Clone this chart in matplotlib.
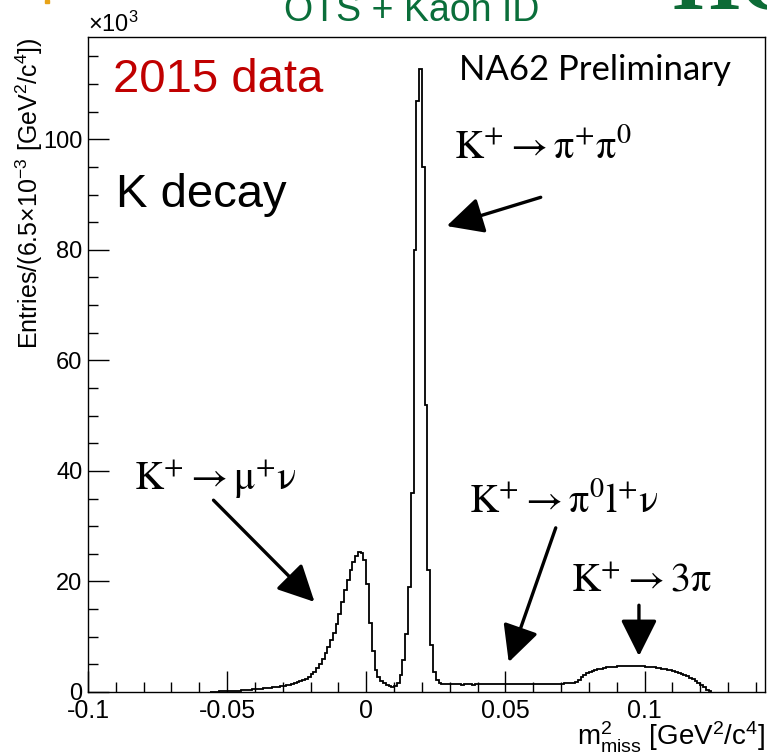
import numpy as np
import matplotlib
matplotlib.use('Agg')
import matplotlib.pyplot as plt
from matplotlib.ticker import MultipleLocator, FuncFormatter
from matplotlib.patches import Rectangle

plt.rcParams['font.family'] = ['Liberation Sans', 'DejaVu Sans']
plt.rcParams['mathtext.fontset'] = 'custom'
plt.rcParams['mathtext.rm'] = 'Liberation Sans'
plt.rcParams['mathtext.it'] = 'Liberation Sans:italic'
plt.rcParams['axes.unicode_minus'] = False

# missing mass squared histogram, entries in units of 10^3
bin_lo = -0.056
bin_w = 0.001
counts = [
    # -0.056 .. -0.031
    0.02, 0.05, 0.08, 0.10, 0.12, 0.14, 0.17, 0.19, 0.21, 0.24,
    0.27, 0.30, 0.34, 0.38, 0.43, 0.48, 0.53, 0.58, 0.63, 0.68,
    0.74, 0.80, 0.86, 0.92, 0.99, 1.07,
    # -0.030 .. -0.001  (K -> mu nu)
    1.15, 1.25, 1.35, 1.47, 1.60, 1.75, 1.90, 2.10, 2.40, 2.70,
    3.20, 3.70, 4.30, 5.00, 6.00, 7.00, 8.10, 9.40, 10.7, 12.3,
    14.2, 16.3, 18.4, 20.3, 22.0, 23.5, 24.6, 25.3, 25.2, 23.9,
    # 0.000 .. 0.026  (K -> pi pi0)
    19.5, 12.5, 7.5, 4.0, 2.8, 2.0, 1.55, 1.20, 1.00, 0.92,
    1.00, 1.60, 3.00, 5.80, 10.5, 19.0, 36.0, 80.0, 107.0, 112.8,
    95.0, 52.0, 22.0, 8.5, 3.6, 2.1, 1.6,
    # 0.027 .. 0.072  flat part
    1.45, 1.42, 1.40, 1.38, 1.38, 1.36, 1.37, 1.35, 1.36, 1.38,
    1.36, 1.35, 1.37, 1.39, 1.38, 1.40, 1.39, 1.41, 1.40, 1.42,
    1.41, 1.43, 1.44, 1.42, 1.43, 1.45, 1.44, 1.46, 1.45, 1.44,
    1.46, 1.47, 1.46, 1.48, 1.47, 1.49, 1.48, 1.50, 1.49, 1.51,
    1.50, 1.52, 1.51, 1.53, 1.54, 1.55,
    # 0.073 .. 0.123  (K -> 3 pi)
    1.58, 1.65, 1.80, 2.20, 2.70, 3.10, 3.40, 3.65, 3.85, 4.00,
    4.15, 4.25, 4.35, 4.45, 4.50, 4.55, 4.60, 4.62, 4.65, 4.67,
    4.68, 4.70, 4.70, 4.70, 4.68, 4.66, 4.64, 4.60, 4.57, 4.53,
    4.48, 4.42, 4.35, 4.25, 4.15, 4.05, 3.92, 3.78, 3.62, 3.45,
    3.25, 3.05, 2.82, 2.58, 2.30, 2.00, 1.65, 1.25, 0.85, 0.45,
    0.10,
]
edges = bin_lo + bin_w * np.arange(len(counts) + 1)

fig = plt.figure(figsize=(7.67, 7.54), dpi=100)
ax = fig.add_axes([88 / 767, 1 - 692 / 754, 677 / 767, 655 / 754])

ax.stairs(counts, edges, color='black', lw=1.3)

ax.set_xlim(-0.1, 0.1433)
ax.set_ylim(0, 118.5)

ax.xaxis.set_major_locator(MultipleLocator(0.05))
ax.xaxis.set_minor_locator(MultipleLocator(0.01))
ax.yaxis.set_major_locator(MultipleLocator(20))
ax.yaxis.set_minor_locator(MultipleLocator(5))
ax.xaxis.set_major_formatter(FuncFormatter(lambda v, p: '%g' % (round(v, 3) + 0.0)))
ax.tick_params(which='both', direction='in', top=False, right=False, width=1)
ax.tick_params(which='major', length=15, pad=5)
ax.tick_params(which='minor', length=7.5)
ax.tick_params(axis='x', labelsize=18)
ax.tick_params(axis='y', labelsize=17, pad=4)
for s in ax.spines.values():
    s.set_linewidth(1)

ax.set_ylabel(r'Entries/(6.5$\times$10$^{-3}$ [GeV$^{2}$/c$^{4}$])', fontsize=18, loc='top')
ax.yaxis.set_label_coords(-0.063, 1.0)
ax.set_xlabel(r'm$^{2}_{\rm miss}$ [GeV$^{2}$/c$^{4}$]', fontsize=20, loc='right')
ax.xaxis.set_label_coords(1.0, -0.043)

fig.text(88 / 767, 1 - 32 / 754, r'$\times$10$^{3}$', fontsize=17, ha='left', va='baseline')

# slide decorations
fig.text(412 / 767, 1 - 21 / 754, 'OTS + Kaon ID', fontsize=27, color='#0A6E3A',
         ha='center', va='baseline')
fig.text(672 / 767, 1 - 9 / 754, 'HO', fontsize=62, color='#0D6B36', fontweight='bold',
         ha='left', va='baseline', family=['Liberation Serif', 'DejaVu Serif'])
fig.patches.append(Rectangle((45 / 767, 1 - 3 / 754), 4 / 767, 3 / 754,
                             transform=fig.transFigure, color='#E8A317'))

ax.text(-0.0909, 108.5, '2015 data', fontsize=34, color='#C00000', va='baseline')
ax.text(0.0332, 110.7, 'NA62 Preliminary', fontsize=25, color='black', va='baseline',
        family=['Lato', 'DejaVu Sans'])
ax.text(-0.0898, 87.7, 'K decay', fontsize=34, color='black', va='baseline')

labels = [
    (0.0315, 96.6, r'$\mathrm{K}^{+}\rightarrow\mathrm{π}^{+}\mathrm{π}^{0}$'),
    (-0.0836, 36.5, r'$\mathrm{K}^{+}\rightarrow\mathrm{μ}^{+}\mathrm{ν}$'),
    (0.0369, 32.5, r'$\mathrm{K}^{+}\rightarrow\mathrm{π}^{0}\mathrm{l}^{+}\mathrm{ν}$'),
    (0.0735, 18.1, r'$\mathrm{K}^{+}\rightarrow\mathrm{3π}$'),
]
for x, y, t in labels:
    ax.text(x, y, t, fontsize=29, va='baseline', math_fontfamily='stix')

arrows = [
    ((0.0627, 89.5), (0.0289, 84.3)),
    ((-0.0549, 34.7), (-0.0186, 16.3)),
    ((0.0681, 29.7), (0.0512, 5.4)),
    ((0.0980, 15.7), (0.0980, 6.5)),
]
for tail, head in arrows:
    ax.annotate('', xy=head, xytext=tail,
                arrowprops=dict(arrowstyle='-|>,head_length=0.8,head_width=0.4',
                                lw=2.4, color='black', shrinkA=0, shrinkB=0,
                                mutation_scale=28))

fig.savefig('out.png', dpi=100)
